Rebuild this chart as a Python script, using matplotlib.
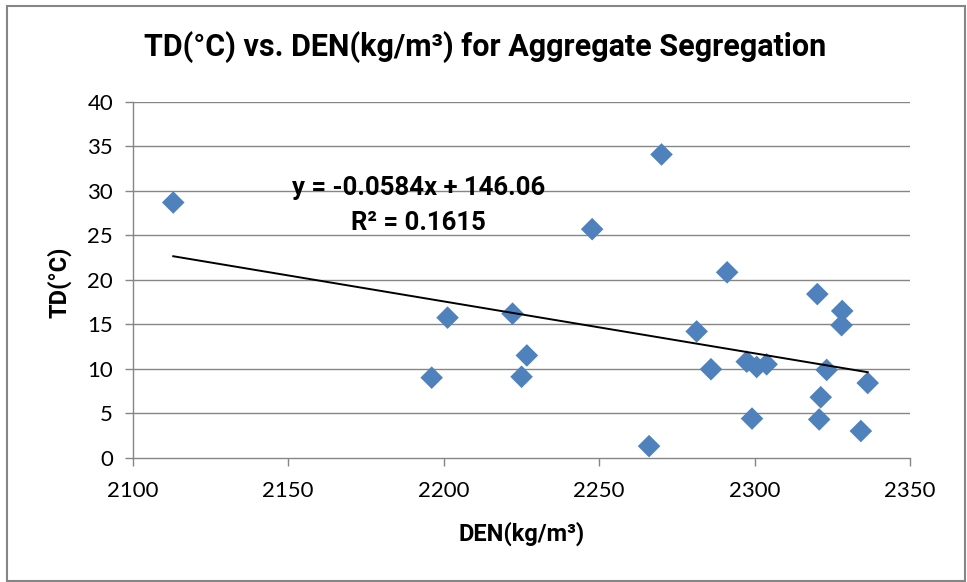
import matplotlib
matplotlib.use("Agg")
import matplotlib.pyplot as plt
import numpy as np
from matplotlib.patches import Rectangle

plt.rcParams['font.family'] = ['Lato', 'DejaVu Sans']

den = [2113.1, 2196.2, 2201.3, 2222.2, 2226.8, 2225.1, 2247.8, 2266.1, 2270.1,
       2281.4, 2286.0, 2291.2, 2297.5, 2299.2, 2300.7, 2303.9, 2320.2, 2321.3,
       2320.8, 2323.2, 2328.2, 2328.0, 2334.2, 2336.4]
td = [28.7, 9.0, 15.75, 16.2, 11.5, 9.1, 25.7, 1.3, 34.1,
      14.2, 9.95, 20.85, 10.8, 4.4, 10.2, 10.5, 18.4, 6.8,
      4.3, 9.87, 16.5, 14.9, 3.0, 8.4]
slope = -0.0584
intercept = 146.06
r2 = 0.1615
x_ticks = [2100, 2150, 2200, 2250, 2300, 2350]
y_ticks = [0, 5, 10, 15, 20, 25, 30, 35, 40]

title = "TD(°C) vs. DEN(kg/m³) for Aggregate Segregation"
xlabel = "DEN(kg/m³)"
ylabel = "TD(°C)"

bold_fam = ['Roboto', 'DejaVu Sans']

fig = plt.figure(figsize=(9.67, 5.82), dpi=100)
ax = fig.add_axes([132.5/967, 1-457.7/582, (910-132.5)/967, (457.7-102)/582])

grid_c = '#868686'
for y in y_ticks[1:]:
    ax.axhline(y, color=grid_c, lw=1.0, zorder=1)

ax.scatter(den, td, marker='D', s=11.5**2, color='#4F81BD', edgecolors='none', zorder=3)

xs = np.array([min(den), max(den)])
ax.plot(xs, slope*xs + intercept, color='black', lw=1.4, zorder=4)

ax.text(2192, 29.55, f"y = {slope}x + {intercept}", ha='center', va='baseline',
        fontsize=18.5, fontweight='bold', family=bold_fam, zorder=5)
ax.text(2192, 25.6, f"R² = {r2}", ha='center', va='baseline',
        fontsize=18.5, fontweight='bold', family=bold_fam, zorder=5)

ax.set_xlim(2100, 2350)
ax.set_ylim(0, 40)
ax.set_xticks(x_ticks)
ax.set_yticks(y_ticks)
ax.tick_params(axis='both', direction='out', length=6, width=1, color=grid_c,
               labelsize=16, labelcolor='black')
ax.tick_params(axis='y', pad=8)
ax.tick_params(axis='x', pad=11)
for s in ['top', 'right']:
    ax.spines[s].set_visible(False)
for s in ['left', 'bottom']:
    ax.spines[s].set_color(grid_c)
    ax.spines[s].set_linewidth(1.0)

fig.text(485/967, 1-56/582, title, ha='center', va='baseline', fontsize=22,
         fontweight='bold', family=bold_fam)
fig.text(522/967, 1-534/582, xlabel, ha='center', va='center', fontsize=17,
         fontweight='bold', family=bold_fam)
fig.text(59/967, 1-282/582, ylabel, ha='center', va='center', fontsize=17,
         fontweight='bold', family=bold_fam, rotation=90)

fig.patches.append(Rectangle((6.7/967, 1.5/582), (965-6.7)/967, (576.3-1.5)/582,
                             transform=fig.transFigure,
                             fill=False, edgecolor='#868686', lw=1.5))

fig.savefig('out.png', dpi=100)
